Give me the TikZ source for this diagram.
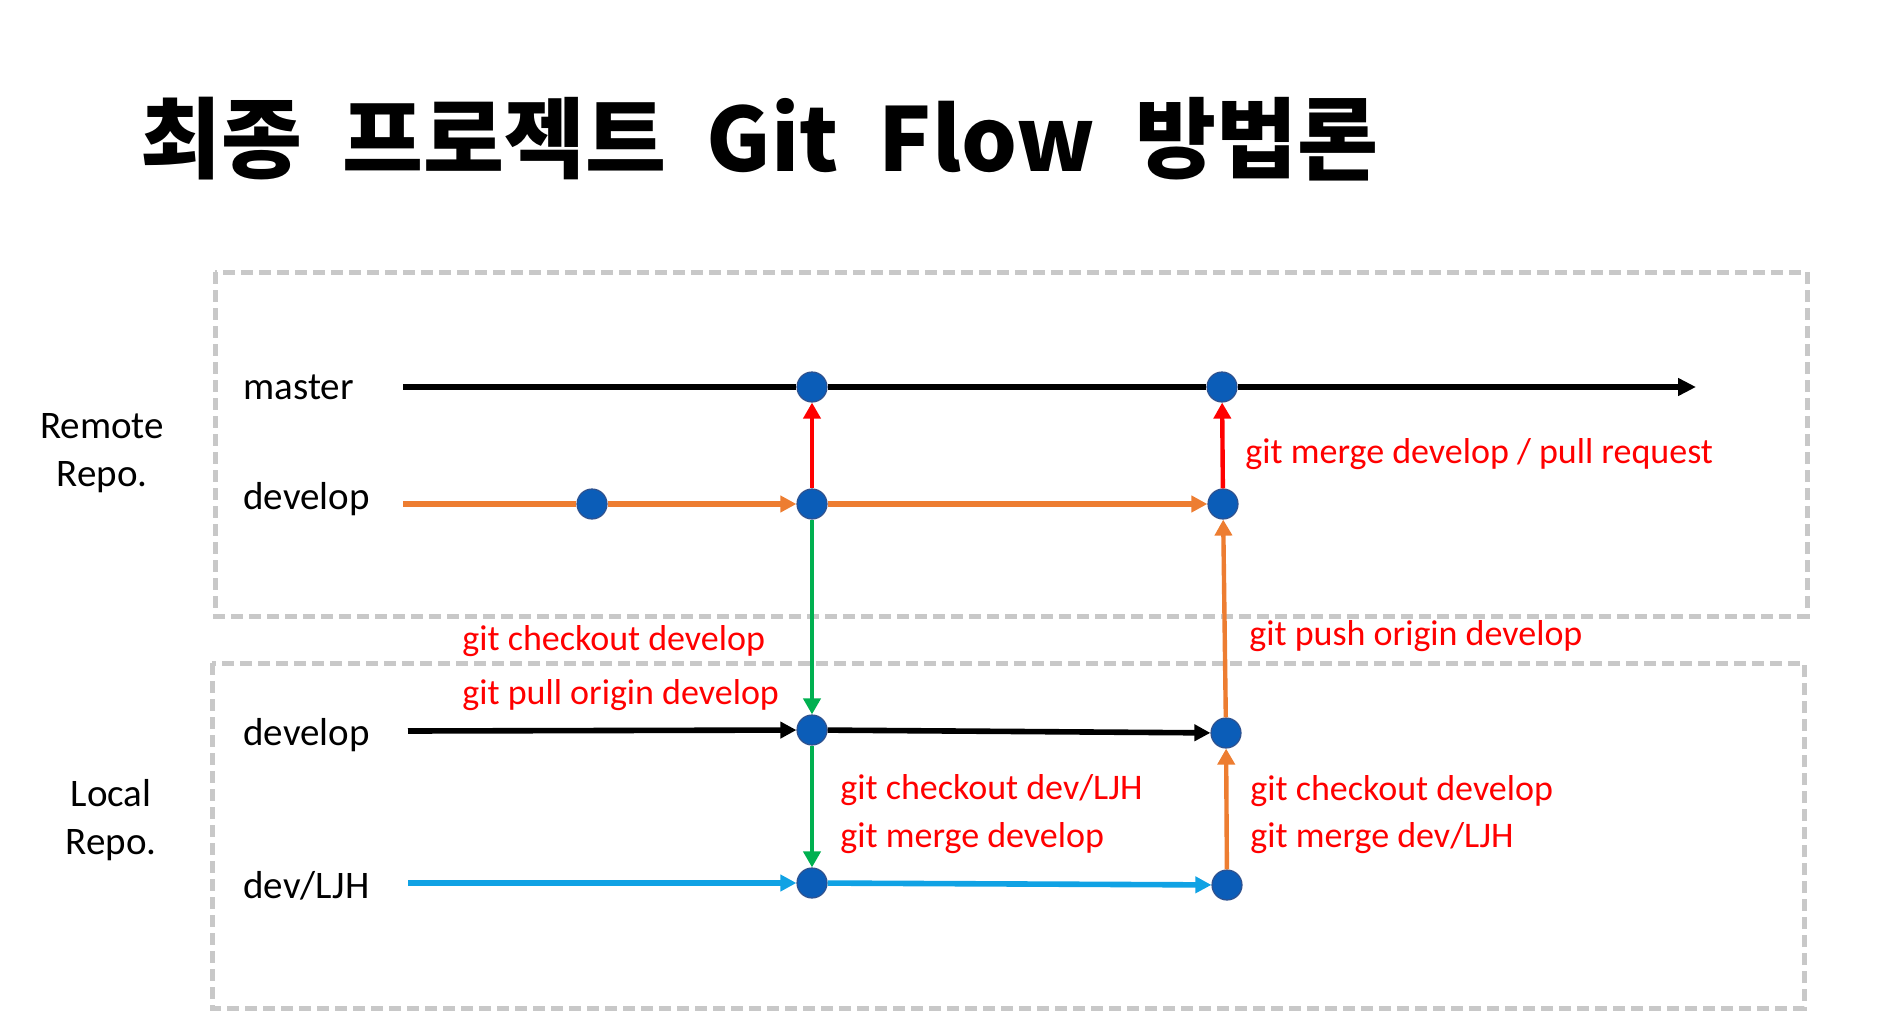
\documentclass[tikz,border=0pt]{standalone}
\usepackage{fontspec}
\setmainfont{Carlito}
\newfontfamily\titlefont{Noto Sans CJK KR}[WordSpace=2.0]
\usepackage{tikz}
\usetikzlibrary{arrows.meta}
\definecolor{dotblue}{HTML}{0B5DB8}
\definecolor{dotedge}{HTML}{2F528F}
\definecolor{devorange}{HTML}{ED7D31}
\definecolor{pullgreen}{HTML}{00B050}
\definecolor{featblue}{HTML}{10A2E4}
\definecolor{cmdred}{HTML}{FF0000}
\definecolor{boxgray}{HTML}{C8C8C8}
\tikzstyle{commit} = [circle,fill=dotblue,draw=dotedge,line width=0.6pt,minimum size=15pt,inner sep=0pt]
\tikzstyle{branch} = [anchor=base west,inner sep=0pt,font=\fontsize{19.5}{24}\selectfont]
\tikzstyle{cmd} = [anchor=base west,inner sep=0pt,text=cmdred,font=\fontsize{18}{22}\selectfont]
\tikzstyle{repobox} = [draw=boxgray,line width=2.5pt,dash pattern=on 6pt off 3pt]
\tikzstyle{flow} = [line width=2.8pt,-{Triangle[length=8pt,width=8pt]}]
\tikzstyle{hop} = [line width=2.2pt,-{Triangle[length=8pt,width=8.5pt]}]

\begin{document}
\begin{tikzpicture}[x=0.5pt,y=-0.5pt]
	\useasboundingbox (0,0) rectangle (1895,1033);
	\node[anchor=base west,inner sep=0pt,font=\titlefont\bfseries\fontsize{44}{50}\selectfont] (title) at (140,171) {최종 프로젝트 Git Flow 방법론};
	% repositories
	\draw[repobox] (215,272) rectangle (1807,616);
	\draw[repobox] (212,663) rectangle (1804,1008);
	\node[align=center,inner sep=0pt,font=\fontsize{19.5}{24}\selectfont] (remote) at (102,453) {Remote\\Repo.};
	\node[align=center,inner sep=0pt,font=\fontsize{19.5}{24}\selectfont] (local) at (111,820) {Local\\Repo.};
	% branches
	\node[branch] (master lbl) at (243,399) {master};
	\node[branch] (rdev lbl) at (243,509) {develop};
	\node[branch] (ldev lbl) at (243,745) {develop};
	\node[branch] (ljh lbl) at (243,898) {dev/LJH};
	\coordinate (ms) at (403,387);
	\coordinate (me) at (1696,387);
	\coordinate (rds) at (403,504);
	\coordinate (lds) at (408,731);
	\coordinate (ljs) at (408,883);
	% commits
	\node[commit] (m1) at (812,387) {};
	\node[commit] (m2) at (1222,387) {};
	\node[commit] (rd0) at (592,504) {};
	\node[commit] (rd1) at (812,504) {};
	\node[commit] (rd2) at (1223,504) {};
	\node[commit] (ld1) at (812,730) {};
	\node[commit] (ld2) at (1226,733) {};
	\node[commit] (lj1) at (812,883) {};
	\node[commit] (lj2) at (1227,885) {};
	% history lines
	\draw[line width=2.8pt,-{Triangle[length=9pt,width=8.5pt]}] (ms) -- (m1) -- (m2) -- (me);
	\draw[flow,devorange] (rds) -- (rd0) -- (rd1);
	\draw[flow,devorange] (rd1) -- (rd2);
	\draw[flow] (lds) -- (ld1);
	\draw[flow] (ld1) -- (ld2);
	\draw[flow,featblue] (ljs) -- (lj1);
	\draw[flow,featblue] (lj1) -- (lj2);
	% merges
	\draw[hop,cmdred] (rd1) -- (m1);
	\draw[hop,cmdred] (rd2) -- (m2);
	\draw[hop,pullgreen] (rd1) -- (ld1);
	\draw[hop,pullgreen] (ld1) -- (lj1);
	\draw[hop,devorange] (lj2) -- (ld2);
	\draw[hop,devorange] (ld2) -- (rd2);
	% commands
	\node[cmd] (merge pr) at (1245,463) {git merge develop / pull request};
	\node[cmd] (co dev) at (462,650) {git checkout develop};
	\node[cmd] (pull dev) at (462,704) {git pull origin develop};
	\node[cmd] (push dev) at (1249,645) {git push origin develop};
	\node[cmd] (co ljh) at (840,799) {git checkout dev/LJH};
	\node[cmd] (merge dev) at (840,847) {git merge develop};
	\node[cmd] (co dev2) at (1250,800) {git checkout develop};
	\node[cmd] (merge ljh) at (1250,847) {git merge dev/LJH};
\end{tikzpicture}
\end{document}
